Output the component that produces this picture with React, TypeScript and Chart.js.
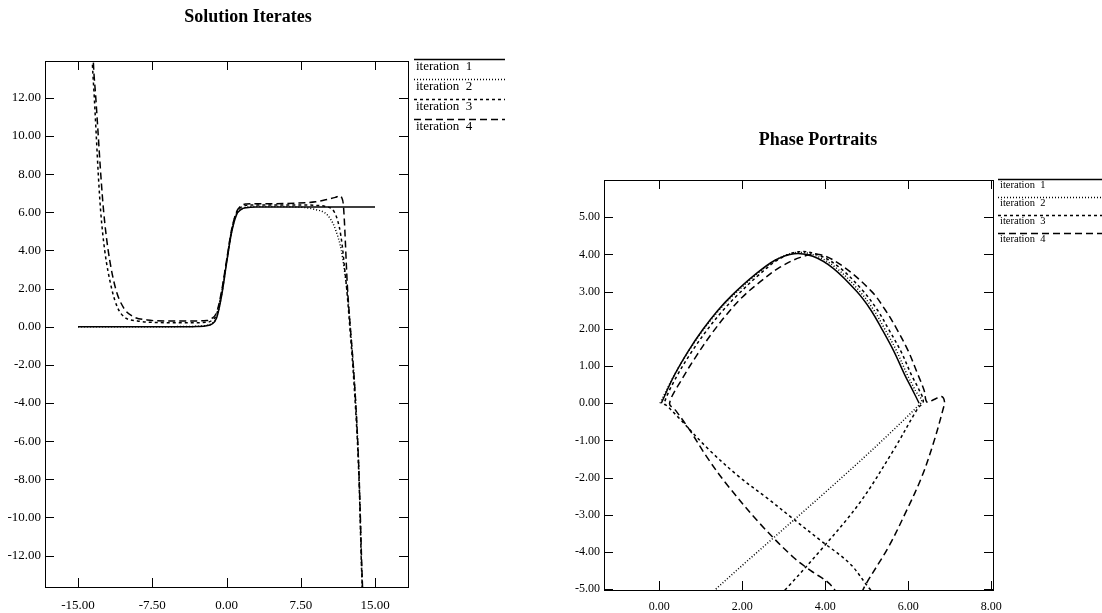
import React, { useEffect, useRef } from "react";
import { Chart, registerables } from "chart.js";

Chart.register(...registerables);

const FONT = "'Liberation Serif', 'Times New Roman', serif";

// ---------- Solution Iterates (left) ----------
const solXTicks = [-15, -7.5, 0, 7.5, 15];
const solYTicks = [-12, -10, -8, -6, -4, -2, 0, 2, 4, 6, 8, 10, 12];

const sol1X = [-15, -6, -4, -3, -2, -1.5, -1, -0.5, 0, 0.5, 1, 1.5, 2, 3, 4, 15];
const sol1Y = [0, 0, 0, 0.01, 0.05, 0.13, 0.45, 1.6, 3.3, 4.9, 5.85, 6.15, 6.24, 6.28, 6.28, 6.28];

const sol2X = [-15, -6, -4, -3, -2, -1.5, -1, -0.5, 0, 0.5, 1, 1.5, 2, 3, 5, 7, 8, 9, 9.9, 10.5, 11, 11.6, 11.9, 12.15, 12.35, 12.5, 12.8, 13.05, 13.25, 13.4, 13.5, 13.6, 13.7, 13.8];
const sol2Y = [0, 0, 0.01, 0.02, 0.07, 0.16, 0.5, 1.65, 3.35, 4.95, 5.88, 6.17, 6.26, 6.3, 6.3, 6.28, 6.24, 6.14, 5.98, 5.65, 5.1, 4.0, 3.0, 2.0, 1.0, 0.0, -2, -4, -6, -8, -10, -12, -13.6, -15];

const sol3X = [-13.62, -13.55, -13.35, -13.15, -12.95, -12.7, -12.3, -11.6, -11.0, -10.3, -9, -7, -4, -2, -1.5, -1, -0.5, 0, 0.5, 1, 1.5, 2, 3, 5, 8, 9, 10, 10.9, 11.4, 11.7, 11.9, 12.1, 12.3, 12.45, 12.75, 13.0, 13.22, 13.38, 13.5, 13.6, 13.72, 13.8];
const sol3Y = [15, 13.9, 12, 10, 8, 6, 4, 2, 1.0, 0.5, 0.3, 0.22, 0.2, 0.23, 0.32, 0.65, 1.75, 3.4, 5.0, 5.95, 6.28, 6.36, 6.38, 6.38, 6.38, 6.36, 6.3, 6.0, 5.2, 4.2, 3.2, 2.2, 1.0, 0.0, -2, -4, -6, -8, -10, -12, -13.7, -15];

const sol4X = [-13.52, -13.45, -13.2, -12.95, -12.7, -12.4, -11.95, -11.2, -10.4, -9.5, -8, -6, -4, -2, -1.5, -1, -0.5, 0, 0.5, 1, 1.5, 2, 3, 5, 8, 9, 10, 11, 11.4, 11.65, 11.8, 11.9, 12.0, 12.1, 12.2, 12.35, 12.5, 12.8, 13.05, 13.25, 13.4, 13.52, 13.63, 13.74, 13.82];
const sol4Y = [15, 13.9, 12, 10, 8, 6, 4, 2, 1.0, 0.55, 0.35, 0.3, 0.3, 0.32, 0.42, 0.75, 1.85, 3.45, 5.05, 6.0, 6.35, 6.43, 6.45, 6.45, 6.5, 6.55, 6.65, 6.78, 6.85, 6.75, 6.4, 5.6, 4.5, 3.3, 2.2, 1.0, 0.0, -2, -4, -6, -8, -10, -12, -13.7, -15];

// ---------- Phase Portraits (right) ----------
const phXTicks = [0, 2, 4, 6, 8];
const phYTicks = [-5, -4, -3, -2, -1, 0, 1, 2, 3, 4, 5];

const ph1X = [0.05, 0.35, 0.7, 1.05, 1.4, 1.75, 2.3, 2.8, 3.25, 3.7, 4.2, 4.76, 5.1, 5.36, 5.65, 5.92, 6.1, 6.26];
const ph1Y = [0, 0.72, 1.4, 1.98, 2.48, 2.9, 3.45, 3.85, 4.02, 3.95, 3.62, 3.0, 2.5, 2.0, 1.4, 0.75, 0.36, 0];

const ph2X = [0.02, 0.36, 0.72, 1.08, 1.44, 1.8, 2.35, 2.84, 3.3, 3.76, 4.26, 4.82, 5.17, 5.43, 5.72, 5.98, 6.16, 6.3, 1.32, 0.33];
const ph2Y = [0, 0.75, 1.42, 2.0, 2.5, 2.92, 3.47, 3.87, 4.05, 3.97, 3.64, 3.02, 2.5, 2.0, 1.4, 0.75, 0.36, 0, -5.04, -6.04];

const ph3X = [5.6, 5.08, 4.6, 3.9, 3.23, 2.6, 1.94, 1.2, 0.46, 0.2, 0.12, 0.42, 0.78, 1.14, 1.5, 1.86, 2.4, 2.88, 3.35, 3.82, 4.33, 4.9, 5.26, 5.52, 5.82, 6.08, 6.26, 6.36, 6.22, 5.64, 4.84, 3.95, 3.03, 2.6];
const ph3Y = [-5.6, -5.0, -4.32, -3.7, -3.11, -2.55, -1.99, -1.25, -0.38, -0.08, 0, 0.72, 1.38, 1.95, 2.45, 2.88, 3.45, 3.87, 4.07, 3.99, 3.66, 3.03, 2.5, 2.0, 1.4, 0.75, 0.36, 0.05, -0.15, -1.27, -2.66, -3.87, -5.02, -5.5];

const ph4X = [4.45, 4.11, 3.65, 3.23, 2.43, 1.62, 1.15, 0.74, 0.4, 0.25, 0.55, 0.9, 1.25, 1.62, 2.0, 2.45, 2.9, 3.4, 3.85, 4.4, 5.12, 5.45, 5.72, 6.0, 6.22, 6.38, 6.45, 6.62, 6.8, 6.87, 6.84, 6.6, 6.32, 5.96, 5.52, 4.96, 4.8];
const ph4Y = [-5.4, -4.86, -4.5, -4.14, -3.24, -2.17, -1.45, -0.73, -0.2, 0, 0.65, 1.28, 1.85, 2.38, 2.85, 3.28, 3.65, 3.92, 4.0, 3.7, 3.0, 2.5, 2.0, 1.4, 0.8, 0.35, 0.03, 0.1, 0.18, 0.05, -0.15, -1.09, -1.99, -2.88, -3.87, -4.9, -5.3];

const legendLabels = ["iteration  1", "iteration  2", "iteration  3", "iteration  4"];

// line styles of the four iterations
const dashes: number[][] = [[], [1, 2], [3, 3], [7, 4]];

const pts = (xs: number[], ys: number[]) => xs.map((x, i) => ({ x, y: ys[i] }));

const decorPlugin = {
  id: "decor",
  afterDraw(chart: any, _args: any, opts: any) {
    const ctx = chart.ctx as CanvasRenderingContext2D;
    const { left, right, top, bottom } = chart.chartArea;
    ctx.save();
    ctx.strokeStyle = "#000";
    ctx.fillStyle = "#000";
    ctx.lineWidth = 1;
    ctx.setLineDash([]);
    ctx.strokeRect(Math.round(left) + 0.5, Math.round(top) + 0.5, Math.round(right - left), Math.round(bottom - top));
    const L = opts.tickLen;
    const xs = chart.scales.x;
    const ys = chart.scales.y;
    ctx.beginPath();
    xs.ticks.forEach((t: any) => {
      const p = Math.round(xs.getPixelForValue(t.value)) + 0.5;
      ctx.moveTo(p, top);
      ctx.lineTo(p, top + L);
      ctx.moveTo(p, bottom);
      ctx.lineTo(p, bottom - L);
    });
    ys.ticks.forEach((t: any) => {
      const p = Math.round(ys.getPixelForValue(t.value)) + 0.5;
      ctx.moveTo(left, p);
      ctx.lineTo(left + L, p);
      ctx.moveTo(right, p);
      ctx.lineTo(right - L, p);
    });
    ctx.stroke();

    // title
    ctx.font = `bold ${opts.titleSize}px ${FONT}`;
    ctx.textAlign = "center";
    ctx.textBaseline = "middle";
    ctx.fillText(opts.title, opts.titleX, opts.titleY);

    // legend
    ctx.font = `${opts.legendSize}px ${FONT}`;
    ctx.textAlign = "left";
    legendLabels.forEach((lab, i) => {
      const ly = opts.legendY[i];
      ctx.setLineDash(dashes[i]);
      ctx.lineWidth = 1.3;
      ctx.beginPath();
      ctx.moveTo(opts.legendX0, ly + 0.5);
      ctx.lineTo(opts.legendX1, ly + 0.5);
      ctx.stroke();
      ctx.setLineDash([]);
      ctx.fillText(lab, opts.legendX0 + 2, ly + opts.legendTextDY);
    });
    ctx.restore();
  },
};

function buildConfig(p: any) {
  const series = [
    pts(p.xs[0], p.ys[0]),
    pts(p.xs[1], p.ys[1]),
    pts(p.xs[2], p.ys[2]),
    pts(p.xs[3], p.ys[3]),
  ];
  return {
    type: "line",
    data: {
      datasets: series.map((d, i) => ({
        label: legendLabels[i],
        data: d,
        borderColor: "#000",
        borderWidth: 1.5,
        borderDash: dashes[i],
        pointRadius: 0,
        fill: false,
        tension: p.monotone ? 0 : 0.35,
        cubicInterpolationMode: p.monotone ? "monotone" : "default",
      })),
    },
    options: {
      responsive: false,
      animation: false,
      events: [],
      layout: { padding: { left: 0, top: p.padTop, right: p.padRight, bottom: 0 } },
      plugins: {
        legend: { display: false },
        title: { display: false },
        tooltip: { enabled: false },
        decor: p.decor,
      },
      scales: {
        x: {
          type: "linear",
          min: p.xMin,
          max: p.xMax,
          afterBuildTicks: (s: any) => {
            s.ticks = p.xTicks.map((v: number) => ({ value: v }));
          },
          afterFit: (s: any) => {
            s.height = p.xAxisH;
          },
          grid: { display: false, drawTicks: false },
          border: { display: false },
          ticks: {
            callback: (v: any) => Number(v).toFixed(2),
            font: { family: FONT, size: p.labelSize },
            color: "#000",
            padding: p.xPad,
            maxRotation: 0,
            autoSkip: false,
          },
        },
        y: {
          type: "linear",
          min: p.yMin,
          max: p.yMax,
          afterBuildTicks: (s: any) => {
            s.ticks = p.yTicks.map((v: number) => ({ value: v }));
          },
          afterFit: (s: any) => {
            s.width = p.yAxisW;
          },
          grid: { display: false, drawTicks: false },
          border: { display: false },
          ticks: {
            callback: (v: any) => Number(v).toFixed(2),
            font: { family: FONT, size: p.labelSize },
            color: "#000",
            padding: 4,
            autoSkip: false,
          },
        },
      },
    },
    plugins: [decorPlugin],
  };
}

function Plot({ left, params }: { left: number; params: any }) {
  const ref = useRef<HTMLCanvasElement>(null);
  useEffect(() => {
    const chart = new Chart(ref.current as HTMLCanvasElement, buildConfig(params) as any);
    return () => chart.destroy();
  }, []);
  return (
    <canvas
      ref={ref}
      width={551}
      height={613}
      style={{ position: "absolute", left, top: 0, width: 551, height: 613 }}
    />
  );
}

const leftParams = {
  xs: [sol1X, sol2X, sol3X, sol4X],
  ys: [sol1Y, sol2Y, sol3Y, sol4Y],
  xMin: -18.33,
  xMax: 18.33,
  yMin: -13.65,
  yMax: 13.93,
  xTicks: solXTicks,
  yTicks: solYTicks,
  padTop: 61,
  padRight: 143,
  yAxisW: 45,
  xAxisH: 26,
  xPad: 11,
  labelSize: 13,
  monotone: true,
  decor: {
    tickLen: 9,
    title: "Solution Iterates",
    titleSize: 18,
    titleX: 248,
    titleY: 17,
    legendSize: 13,
    legendX0: 414,
    legendX1: 505,
    legendY: [59, 79, 99, 119],
    legendTextDY: 8,
  },
};

const rightParams = {
  xs: [ph1X, ph2X, ph3X, ph4X],
  ys: [ph1Y, ph2Y, ph3Y, ph4Y],
  xMin: -1.33,
  xMax: 8.04,
  yMin: -5.02,
  yMax: 6.0,
  xTicks: phXTicks,
  yTicks: phYTicks,
  padTop: 180,
  padRight: 109,
  yAxisW: 53,
  xAxisH: 23,
  xPad: 10,
  labelSize: 12,
  monotone: false,
  decor: {
    tickLen: 9,
    title: "Phase Portraits",
    titleSize: 18,
    titleX: 267,
    titleY: 140,
    legendSize: 10.5,
    legendX0: 447,
    legendX1: 551,
    legendY: [179, 197, 215, 233],
    legendTextDY: 6,
  },
};

export default function App() {
  return (
    <div
      style={{
        position: "fixed",
        left: 0,
        top: 0,
        width: 1102,
        height: 613,
        background: "#fff",
        overflow: "hidden",
      }}
    >
      <Plot left={0} params={leftParams} />
      <Plot left={551} params={rightParams} />
    </div>
  );
}
